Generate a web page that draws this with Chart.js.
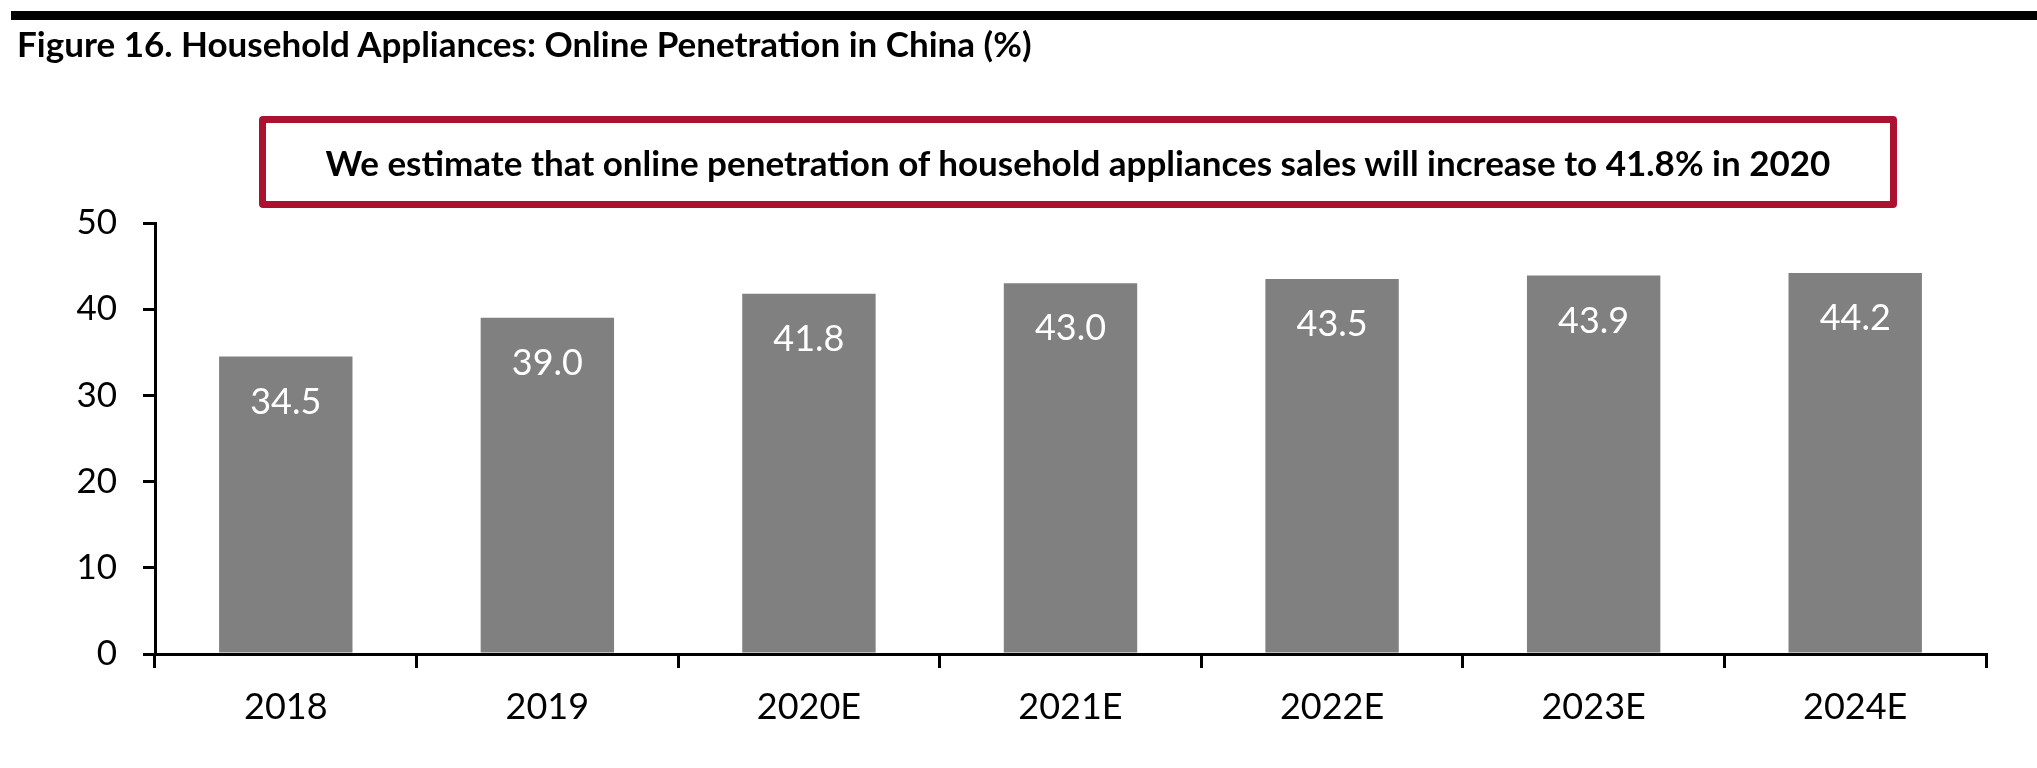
<!DOCTYPE html>
<html>
<head>
<meta charset="utf-8">
<script src="https://cdn.jsdelivr.net/npm/chart.js@4.4.1/dist/chart.umd.min.js"></script>
<style>
  body { margin: 0; background: #fff; }
  #page { position: relative; width: 2037px; height: 768px; overflow: hidden; font-family: Lato, sans-serif; }
  #topRule { position: absolute; left: 11px; right: 0; top: 11px; height: 9px; background: #000; }
  #title { position: absolute; left: 17px; top: 26px; font-size: 35px; line-height: 1; font-weight: 700; color: #000; white-space: nowrap; }
  #callout {
    position: absolute; left: 259px; top: 116px; width: 1638px; height: 92px;
    box-sizing: border-box; border: 7px solid #aa1230; border-radius: 4px;
    display: flex; align-items: center; justify-content: center;
    font-size: 35px; font-weight: 700; color: #000; white-space: nowrap;
  }
  #chart { position: absolute; left: 0; top: 0; }
</style>
</head>
<body>
<div id="page">
  <canvas id="chart" width="2037" height="768"></canvas>
  <div id="topRule"></div>
  <div id="title">Figure 16. Household Appliances: Online Penetration in China (%)</div>
  <div id="callout">We estimate that online penetration of household appliances sales will increase to 41.8% in 2020</div>
</div>
<script>
// Online penetration of household appliances, China (%)
const years = ['2018', '2019', '2020E', '2021E', '2022E', '2023E', '2024E'];
const penetration = [34.5, 39.0, 41.8, 43.0, 43.5, 43.9, 44.2];
const yTicks = [0, 10, 20, 30, 40, 50];

// White value labels just inside the top of each bar
const barLabels = {
  id: 'barLabels',
  afterDatasetsDraw(chart) {
    const ctx = chart.ctx;
    const meta = chart.getDatasetMeta(0);
    ctx.save();
    ctx.fillStyle = '#ffffff';
    ctx.font = '36px Lato';
    ctx.textAlign = 'center';
    ctx.textBaseline = 'alphabetic';
    meta.data.forEach((bar, i) => {
      ctx.fillText(penetration[i].toFixed(1), bar.x, bar.y + 57);
    });
    ctx.restore();
  }
};

const ctx = document.getElementById('chart').getContext('2d');
new Chart(ctx, {
  type: 'bar',
  data: {
    labels: years,
    datasets: [{
      data: penetration,
      backgroundColor: '#808080',
      borderWidth: 0,
      barPercentage: 0.51,
      categoryPercentage: 1.0
    }]
  },
  options: {
    responsive: false,
    animation: false,
    layout: { padding: { top: 223, right: 51, left: 0, bottom: 0 } },
    plugins: {
      legend: { display: false },
      tooltip: { enabled: false }
    },
    scales: {
      x: {
        afterFit(scale) { scale.height = 114; },
        grid: {
          offset: true,
          drawOnChartArea: false,
          drawTicks: true,
          tickLength: 14,
          color: '#000',
          lineWidth: 3
        },
        border: { display: true, color: '#000', width: 3 },
        ticks: {
          color: '#000',
          font: { family: 'Lato', size: 36 },
          padding: 18
        }
      },
      y: {
        min: 0,
        max: 50,
        afterFit(scale) { scale.width = 155; },
        afterBuildTicks(scale) { scale.ticks = yTicks.map(v => ({ value: v })); },
        grid: {
          drawOnChartArea: false,
          drawTicks: true,
          tickLength: 12,
          color: '#000',
          lineWidth: 3
        },
        border: { display: true, color: '#000', width: 3 },
        ticks: {
          color: '#000',
          font: { family: 'Lato', size: 35 },
          padding: 26
        }
      }
    }
  },
  plugins: [barLabels]
});
</script>
</body>
</html>
